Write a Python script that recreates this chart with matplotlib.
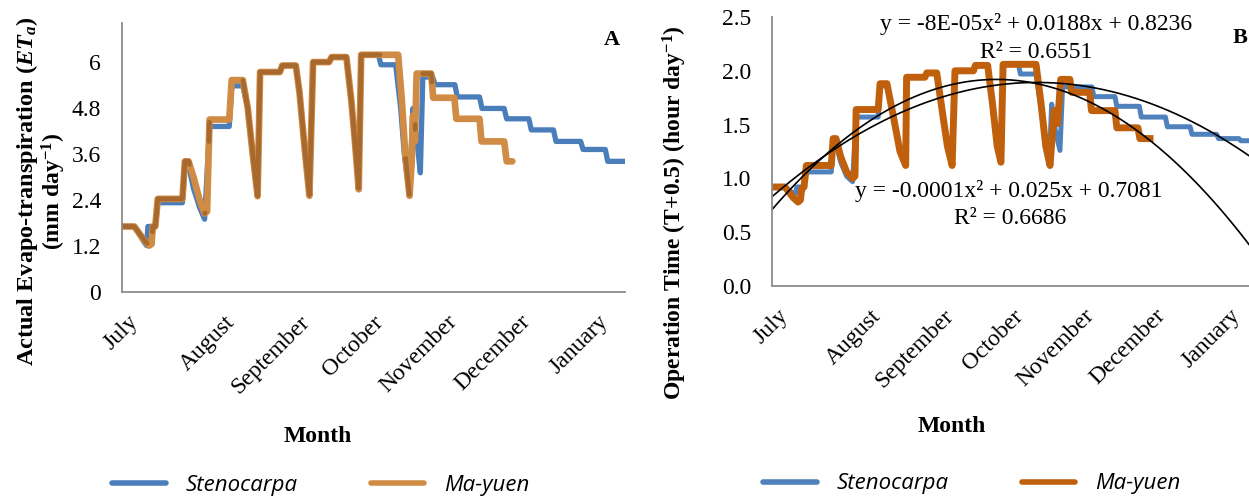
import matplotlib
matplotlib.use('Agg')
import matplotlib.pyplot as plt
from matplotlib.lines import Line2D
import numpy as np

plt.rcParams['font.family'] = ['Liberation Serif', 'DejaVu Serif']
plt.rcParams['mathtext.fontset'] = 'custom'
plt.rcParams['mathtext.rm'] = 'Liberation Serif'
plt.rcParams['mathtext.it'] = 'Liberation Serif:italic'
plt.rcParams['mathtext.bf'] = 'Liberation Serif:bold'
plt.rcParams['mathtext.bfit'] = 'Liberation Serif:italic:bold'

# month labels and the day index they sit at
months = ['July', 'August', 'September', 'October', 'November', 'December', 'January']
month_days = [2.4, 41.5, 72, 101.5, 131.5, 161.5, 193]

# --- panel A: actual evapo-transpiration (mm/day)
a_steno_day = [0, 5, 9, 10, 10.5, 13.5, 14.5, 24.5, 25.5, 27, 29, 31.5, 33.5, 35.5, 43.5, 44.5, 49, 51, 53, 55, 56,
               64, 65, 70.5, 72, 74, 76, 77.5, 84, 85, 91, 93, 94.5, 96, 97, 104, 105, 111, 113, 114.5, 116.5, 118,
               119.5, 121, 122, 126, 127, 135, 136, 145, 146, 155, 156, 165, 166, 175, 176, 186, 187, 196, 197, 204]
a_steno_val = [1.71, 1.71, 1.3, 1.21, 1.71, 1.71, 2.33, 2.33, 3.3, 3.3, 2.7, 2.2, 1.9, 4.32, 4.32, 5.38, 5.38, 4.8,
               3.6, 2.5, 5.74, 5.74, 5.91, 5.91, 5.2, 3.8, 2.51, 6.0, 6.0, 6.13, 6.13, 5.0, 3.9, 2.68, 6.19, 6.19,
               5.93, 5.93, 4.8, 3.6, 2.6, 4.79, 4.0, 3.11, 5.61, 5.61, 5.41, 5.41, 5.09, 5.09, 4.79, 4.79, 4.52,
               4.52, 4.23, 4.23, 3.93, 3.93, 3.72, 3.72, 3.41, 3.41]
a_mayuen_day = [0, 5, 9, 11, 12, 12.5, 13.5, 14.5, 24.5, 25.5, 27, 29, 31.5, 33.5, 34.5, 35.5, 43.5, 44.5, 49, 51,
                53, 55, 56, 64, 65, 70.5, 72, 74, 76, 77.5, 84, 85, 91, 93, 94.5, 96, 97, 112, 113.5, 115, 116.6,
                117.5, 118, 118.8, 119.5, 125.4, 126.2, 134.8, 135.6, 145, 145.8, 155, 156, 158.3]
a_mayuen_val = [1.71, 1.71, 1.35, 1.21, 1.25, 1.71, 1.71, 2.43, 2.43, 3.41, 3.41, 3.0, 2.4, 2.05, 2.1, 4.5, 4.5,
                5.53, 5.53, 4.8, 3.6, 2.5, 5.74, 5.74, 5.91, 5.91, 5.2, 3.8, 2.51, 6.0, 6.0, 6.13, 6.13, 5.0, 3.9,
                2.68, 6.19, 6.19, 5.0, 3.5, 2.51, 3.4, 4.6, 3.93, 5.7, 5.7, 5.07, 5.07, 4.52, 4.52, 3.93, 3.93,
                3.41, 3.41]

# --- panel B: operation time (hour/day)
b_steno_day = [0, 5.5, 9, 10, 10.5, 13.5, 14.5, 25, 25.8, 27, 29, 31.5, 34, 35.5, 44.8, 45.6, 48.5, 51, 54, 56.4,
               56.8, 64.5, 65.3, 69.5, 72, 74, 76, 77.2, 85, 85.8, 91, 93, 95, 96.6, 97.5, 104, 104.8, 111.4,
               113.5, 115.5, 117, 118, 119.5, 121.5, 122.6, 135, 135.8, 144.7, 145.5, 155, 155.8, 166, 166.8,
               176.4, 177.2, 187.6, 188.4, 197, 197.8, 204]
b_steno_val = [0.92, 0.92, 0.86, 0.86, 0.92, 0.92, 1.06, 1.06, 1.33, 1.33, 1.15, 1.02, 0.97, 1.57, 1.57, 1.86,
               1.86, 1.6, 1.25, 1.12, 1.94, 1.94, 1.98, 1.98, 1.6, 1.3, 1.12, 2.0, 2.0, 2.05, 2.05, 1.7, 1.3, 1.15,
               2.06, 2.06, 1.97, 1.97, 1.65, 1.3, 1.15, 1.69, 1.45, 1.26, 1.85, 1.85, 1.76, 1.76, 1.67, 1.67, 1.57,
               1.57, 1.48, 1.48, 1.41, 1.41, 1.37, 1.37, 1.35, 1.35]
b_mayuen_day = [0, 5.5, 9, 11, 12, 12.5, 13.5, 14.5, 25, 25.8, 27, 29, 31.5, 34, 35, 35.5, 44.8, 45.6, 48.5, 51,
                54, 56.4, 56.8, 64.5, 65.3, 69.5, 72, 74, 76, 77.2, 85, 85.8, 91, 93, 95, 96.6, 97.5, 111.4, 113.5,
                115.5, 117.3, 119, 120.5, 121.8, 125.7, 126.4, 134, 134.8, 144.7, 145.5, 154.4, 155.2, 159.5]
b_mayuen_val = [0.92, 0.92, 0.82, 0.78, 0.8, 0.9, 0.92, 1.12, 1.12, 1.37, 1.37, 1.2, 1.06, 1.0, 1.02, 1.64, 1.64,
                1.88, 1.88, 1.6, 1.25, 1.12, 1.94, 1.94, 1.98, 1.98, 1.6, 1.3, 1.12, 2.0, 2.0, 2.05, 2.05, 1.7, 1.3,
                1.15, 2.06, 2.06, 1.7, 1.3, 1.12, 1.63, 1.51, 1.92, 1.92, 1.80, 1.80, 1.63, 1.63, 1.47, 1.47, 1.37,
                1.37]

# polynomial trendlines (c, b, a) in day units, matched to the drawn curves
trend_steno = [0.83, 0.0190, -8.5e-5]
trend_mayuen = [0.71, 0.02556, -1.35e-4]
eq_steno = ['y = -8E-05x² + 0.0188x + 0.8236', 'R² = 0.6551']
eq_mayuen = ['y = -0.0001x² + 0.025x + 0.7081', 'R² = 0.6686']

W, H = 1249, 497
fig = plt.figure(figsize=(W / 100, H / 100), dpi=100)


def box(l, t, r, b):
    return [l / W, 1 - b / H, (r - l) / W, (b - t) / H]


def fx(x):
    return x / W


def fy(y):
    return 1 - y / H


def style(ax):
    for s in ['top', 'right']:
        ax.spines[s].set_visible(False)
    for s in ['left', 'bottom']:
        ax.spines[s].set_color('#8c8c8c')
        ax.spines[s].set_linewidth(1.3)
    ax.set_xlim(0, 204)
    ax.set_xticks(month_days)
    ax.set_xticklabels(months, rotation=45, ha='right', rotation_mode='anchor', fontsize=17)
    ax.tick_params(axis='x', length=0, pad=14)
    ax.tick_params(axis='y', length=0, pad=15, labelsize=17)


# panel A
axA = fig.add_axes(box(122, 23, 625, 292))
style(axA)
axA.plot(a_steno_day, a_steno_val, color='#4A7EBB', lw=3.8, solid_joinstyle='round', solid_capstyle='round')
axA.plot(a_mayuen_day, a_mayuen_val, color='#D08B45', lw=4.8, solid_joinstyle='round', solid_capstyle='round')
# where the two series sit on top of each other the line looks brown
grid = np.linspace(0, a_mayuen_day[-1], 3000)
o = np.interp(grid, a_mayuen_day, a_mayuen_val)
s = np.interp(grid, a_steno_day, a_steno_val)
axA.plot(grid, np.where(np.abs(o - s) < 0.15, o, np.nan), color='#A8692F', lw=3.4, solid_capstyle='round')
axA.set_ylim(0, 7.02)
axA.set_yticks([0, 1.2, 2.4, 3.6, 4.8, 6])
axA.set_yticklabels(['0', '1.2', '2.4', '3.6', '4.8', '6'])
axA.text(0.99, 0.935, 'A', transform=axA.transAxes, ha='right', va='center', fontsize=16, fontweight='bold')

# panel B
axB = fig.add_axes(box(772, 17, 1255.5, 286))
style(axB)
axB.plot(b_steno_day, b_steno_val, color='#4F81BD', lw=3.6, solid_joinstyle='round')
axB.plot(b_mayuen_day, b_mayuen_val, color='#C0600C', lw=5, solid_joinstyle='round')
xd = np.linspace(0, 204, 300)
for c in [trend_steno, trend_mayuen]:
    axB.plot(xd, np.polynomial.polynomial.polyval(xd, c), color='black', lw=1.2)
axB.set_ylim(0, 2.5)
axB.set_yticks([0, 0.5, 1.0, 1.5, 2.0, 2.5])
axB.set_yticklabels(['%.1f' % v for v in [0, 0.5, 1.0, 1.5, 2.0, 2.5]])
fig.text(fx(1233), fy(38), 'B', ha='left', va='center', fontsize=16, fontweight='bold')

fig.text(fx(1036), fy(24), eq_steno[0], ha='center', va='center', fontsize=17)
fig.text(fx(1036), fy(52), eq_steno[1], ha='center', va='center', fontsize=17)
fig.text(fx(1009), fy(191), eq_mayuen[0], ha='center', va='center', fontsize=17)
fig.text(fx(1010), fy(218), eq_mayuen[1], ha='center', va='center', fontsize=17)

# axis titles
fig.text(fx(27), fy(191), r'Actual Evapo-transpiration ($\mathbfit{ET_a}$)', rotation=90,
         ha='center', va='center', fontsize=17.5, fontweight='bold')
fig.text(fx(54), fy(191), r'(mm day$^{\mathbf{-1}}$)', rotation=90,
         ha='center', va='center', fontsize=17, fontweight='bold')
fig.text(fx(675), fy(213), r'Operation Time (T+0.5) (hour day$^{\mathbf{-1}}$)', rotation=90,
         ha='center', va='center', fontsize=17, fontweight='bold')
fig.text(fx(318), fy(436), 'Month', ha='center', va='center', fontsize=17, fontweight='bold')
fig.text(fx(952), fy(427), 'Month', ha='center', va='center', fontsize=17, fontweight='bold')

# legends
legfont = {'family': 'Open Sans', 'style': 'italic', 'size': 16}
hA = [Line2D([], [], color='#4A7EBB', lw=4, solid_capstyle='round'),
      Line2D([], [], color='#D08B45', lw=4, solid_capstyle='round')]
fig.legend(hA, ['Stenocarpa', 'Ma-yuen'], loc='center', bbox_to_anchor=(fx(321), fy(485)), ncol=2,
           frameon=False, prop=legfont, handlelength=2.4, handletextpad=0.9, columnspacing=3.3)
hB = [Line2D([], [], color='#4F81BD', lw=4, solid_capstyle='round'),
      Line2D([], [], color='#C0600C', lw=4, solid_capstyle='round')]
fig.legend(hB, ['Stenocarpa', 'Ma-yuen'], loc='center', bbox_to_anchor=(fx(972), fy(484)), ncol=2,
           frameon=False, prop=legfont, handlelength=2.4, handletextpad=0.9, columnspacing=3.3)

fig.savefig('out.png', dpi=100)
